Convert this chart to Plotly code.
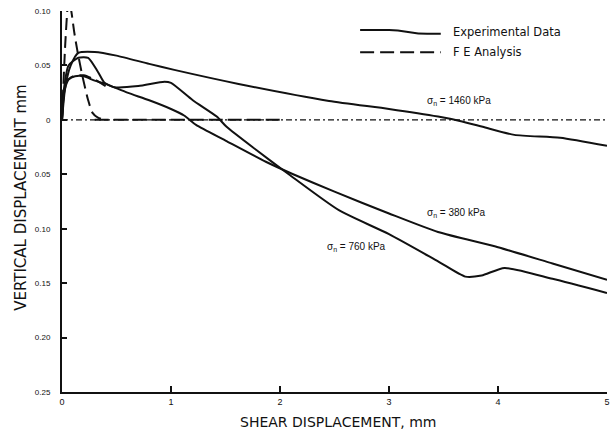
import plotly.graph_objects as go

# ---------------- data ----------------
exp1460_x = [0, 0.03, 0.08, 0.15, 0.30, 0.50, 0.80, 1.03, 1.62, 2.45, 3.00, 3.45, 3.65, 3.86, 4.15, 4.57, 5.00]
exp1460_y = [0, 0.030, 0.050, 0.0615, 0.0624, 0.059, 0.0514, 0.0459, 0.033, 0.0174, 0.010, 0.003, -0.001, -0.0064, -0.0138, -0.0165, -0.0239]

exp760_x = [0, 0.02, 0.06, 0.15, 0.24, 0.33, 0.39, 0.48, 0.70, 0.94, 1.00, 1.20, 1.42, 1.51, 1.78, 2.08, 2.54, 3.00, 3.45, 3.70, 3.85, 4.06, 4.50, 5.00]
exp760_y = [0, 0.030, 0.050, 0.057, 0.057, 0.044, 0.034, 0.030, 0.031, 0.035, 0.034, 0.018, 0.003, -0.0064, -0.0275, -0.050, -0.083, -0.105, -0.130, -0.144, -0.143, -0.136, -0.146, -0.159]

exp380_x = [0, 0.02, 0.06, 0.12, 0.20, 0.30, 0.40, 0.60, 0.80, 1.00, 1.12, 1.23, 1.50, 1.87, 2.11, 2.50, 3.00, 3.45, 4.00, 4.50, 5.00]
exp380_y = [0, 0.025, 0.037, 0.040, 0.040, 0.036, 0.033, 0.025, 0.018, 0.010, 0.004, -0.0046, -0.019, -0.0385, -0.0495, -0.066, -0.086, -0.103, -0.117, -0.132, -0.147]

fe_spike_x = [0, 0.03, 0.06, 0.085, 0.11, 0.14, 0.19, 0.24, 0.28, 0.33, 0.40]
fe_spike_y = [0, 0.070, 0.110, 0.100, 0.082, 0.064, 0.039, 0.018, 0.0064, 0.002, 0]

fe_plateau_x = [0, 0.03, 0.10, 0.20, 0.30, 0.40]
fe_plateau_y = [0, 0.034, 0.040, 0.041, 0.037, 0.031]

fe_zero_heavy_x = [0.30, 2.0]
fe_zero_heavy_y = [0, 0]
fe_zero_light_x = [0, 5.0]
fe_zero_light_y = [0, 0]

x_tickvals = [0, 1, 2, 3, 4, 5]
x_ticktext = ["0", "1", "2", "3", "4", "5"]
y_tickvals = [0.10, 0.05, 0, -0.05, -0.10, -0.15, -0.20, -0.25]
y_ticktext = ["0.10", "0.05", "0", "0.05", "0.10", "0.15", "0.20", "0.25"]

curve_labels = ["σ<sub>n</sub> = 1460 kPa", "σ<sub>n</sub> = 380 kPa", "σ<sub>n</sub> = 760 kPa"]
label_x = [3.33, 3.33, 2.41]
label_y = [0.0174, -0.086, -0.117]

legend_texts = ["Experimental Data", "F E Analysis"]

# ---------------- figure ----------------
INK = "#111111"
FONT = "Liberation Sans"
TFONT = "DejaVu Sans"

fig = go.Figure()

def solid(x, y):
    fig.add_trace(go.Scatter(x=x, y=y, mode="lines", showlegend=False, hoverinfo="skip",
                             line=dict(color=INK, width=2, shape="spline", smoothing=0.6)))

def dashed(x, y, w=2, dash="12px,6px"):
    fig.add_trace(go.Scatter(x=x, y=y, mode="lines", showlegend=False, hoverinfo="skip",
                             line=dict(color=INK, width=w, dash=dash, shape="spline", smoothing=0.6)))

dashed(fe_zero_light_x, fe_zero_light_y, w=1.2, dash="6px,3px,2px,3px")
dashed(fe_zero_heavy_x, fe_zero_heavy_y, w=2, dash="14px,5px")
dashed(fe_spike_x, fe_spike_y)
dashed(fe_plateau_x, fe_plateau_y)
solid(exp1460_x, exp1460_y)
solid(exp380_x, exp380_y)
solid(exp760_x, exp760_y)

for t, lx, ly in zip(curve_labels, label_x, label_y):
    fig.add_annotation(x=lx, y=ly, text=t, showarrow=False, xanchor="left", yanchor="middle",
                       font=dict(family=FONT, size=10, color=INK))

# legend (drawn manually, long line samples)
fig.add_shape(type="path", xref="paper", yref="paper",
              path="M 0.547 0.950 L 0.60 0.950 C 0.63 0.950, 0.64 0.940, 0.67 0.940 L 0.695 0.940",
              line=dict(color=INK, width=2))
fig.add_shape(type="line", xref="paper", yref="paper", x0=0.547, x1=0.695, y0=0.892, y1=0.892,
              line=dict(color=INK, width=2, dash="14px,6px"))
fig.add_annotation(xref="paper", yref="paper", x=0.713, y=0.945, text=legend_texts[0], showarrow=False,
                   xanchor="left", yanchor="middle", font=dict(family=TFONT, size=11.5, color=INK))
fig.add_annotation(xref="paper", yref="paper", x=0.713, y=0.892, text=legend_texts[1], showarrow=False,
                   xanchor="left", yanchor="middle", font=dict(family=TFONT, size=11.5, color=INK))

# axis titles
fig.add_annotation(xref="paper", yref="paper", x=-0.075, y=0.51, text="VERTICAL DISPLACEMENT mm",
                   textangle=-90, showarrow=False, xanchor="center", yanchor="middle",
                   font=dict(family=TFONT, size=15, color=INK))
fig.add_annotation(xref="paper", yref="paper", x=0.507, y=-0.078, text="SHEAR DISPLACEMENT, mm",
                   showarrow=False, xanchor="center", yanchor="middle",
                   font=dict(family=TFONT, size=14, color=INK))

fig.update_layout(
    width=616, height=437,
    margin=dict(l=62, r=6, t=11, b=45),
    paper_bgcolor="white", plot_bgcolor="white",
    font=dict(family=FONT, color=INK),
    xaxis=dict(range=[0, 5], tickvals=x_tickvals, ticktext=x_ticktext, ticks="inside", ticklen=6,
               tickwidth=1.5, tickcolor=INK, showline=True, linecolor=INK, linewidth=2,
               showgrid=False, zeroline=False, tickfont=dict(size=9, family=FONT, color=INK)),
    yaxis=dict(range=[-0.25, 0.10], tickvals=y_tickvals, ticktext=y_ticktext, ticks="inside", ticklen=5,
               tickwidth=1.5, tickcolor=INK, showline=True, linecolor=INK, linewidth=2,
               ticklabelstandoff=8,
               showgrid=False, zeroline=False, tickfont=dict(size=8, family=FONT, color=INK)),
)

fig.write_html("out.html")
